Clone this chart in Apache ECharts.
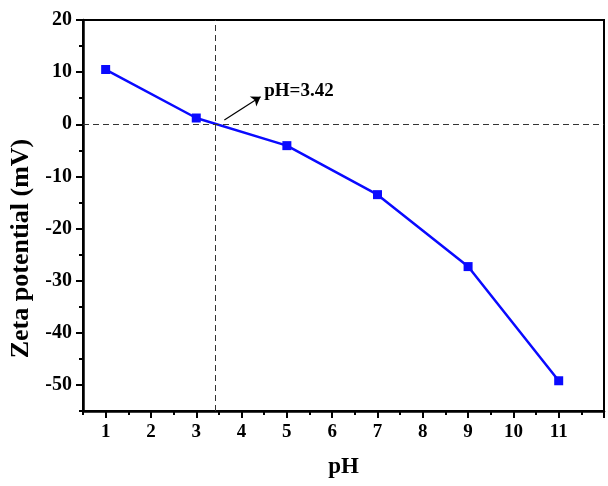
<!DOCTYPE html>
<html>
<head>
<meta charset="utf-8">
<script src="https://cdn.jsdelivr.net/npm/echarts@6/dist/echarts.min.js"></script>
<style>
html,body{margin:0;padding:0;background:#fff;}
#chart{width:608px;height:486px;}
</style>
</head>
<body>
<div id="chart"></div>
<script>
// 数据
var ph = [1, 3, 5, 7, 9, 11];
var zeta = [10.5, 1.2, -4.1, -13.5, -27.3, -49.2];
var xLabels = [1, 2, 3, 4, 5, 6, 7, 8, 9, 10, 11];
var xMinor = [0.5, 1.5, 2.5, 3.5, 4.5, 5.5, 6.5, 7.5, 8.5, 9.5, 10.5, 11.5];
var yLabels = [-50, -40, -30, -20, -10, 0, 10, 20];
var yMinor = [-55, -45, -35, -25, -15, -5, 5, 15];
var iep = 3.42;

var font = 'Liberation Serif';
var chart = echarts.init(document.getElementById('chart'));
chart.setOption({
    animation: false,
    grid: {left: 83, top: 20, right: 4, bottom: 75, show: true, borderColor: '#000', borderWidth: 2},
    xAxis: [{
        type: 'value', min: 0.5, max: 12,
        name: 'pH', nameLocation: 'middle', nameGap: 45,
        nameTextStyle: {fontFamily: font, fontWeight: 'bold', fontSize: 23, color: '#000'},
        axisLine: {onZero: false, lineStyle: {color: '#000', width: 2.5}},
        axisTick: {show: true, length: 7, lineStyle: {color: '#000', width: 2}, customValues: xLabels.concat([12])},
        axisLabel: {customValues: xLabels, margin: 12, fontFamily: font, fontWeight: 'bold', fontSize: 19, color: '#000'},
        splitLine: {show: false}
    }, {
        type: 'value', min: 0.5, max: 12, position: 'bottom',
        axisLine: {show: false, onZero: false},
        axisTick: {show: true, length: 4, lineStyle: {color: '#000', width: 2}, customValues: xMinor},
        axisLabel: {show: false},
        splitLine: {show: false}
    }],
    yAxis: [{
        type: 'value', min: -55, max: 20,
        name: 'Zeta potential (mV)', nameLocation: 'middle', nameGap: 49,
        nameTextStyle: {fontFamily: font, fontWeight: 'bold', fontSize: 26, color: '#000', padding: [0, 66, 0, 0]},
        axisLine: {onZero: false, lineStyle: {color: '#000', width: 2.5}},
        axisTick: {show: true, length: 7, lineStyle: {color: '#000', width: 2}, customValues: yLabels},
        axisLabel: {customValues: yLabels, margin: 11, fontFamily: font, fontWeight: 'bold', fontSize: 20, color: '#000'},
        splitLine: {show: false}
    }, {
        type: 'value', min: -55, max: 20, position: 'left',
        axisLine: {show: false, onZero: false},
        axisTick: {show: true, length: 4, lineStyle: {color: '#000', width: 2}, customValues: yMinor},
        axisLabel: {show: false},
        splitLine: {show: false}
    }],
    series: [{
        type: 'line',
        data: ph.map(function (v, i) { return [v, zeta[i]]; }),
        symbol: 'rect', symbolSize: 9,
        itemStyle: {color: '#0a0aff'},
        lineStyle: {color: '#0a0aff', width: 2.5},
        markLine: {
            silent: true, symbol: 'none',
            lineStyle: {type: [6, 4], color: '#333', width: 1},
            label: {show: false},
            data: [
                {xAxis: iep},
                {yAxis: 0},
                [{coord: [3.62, 0.8], symbol: 'none'},
                 {coord: [4.42, 5.3], symbol: 'arrow', symbolSize: 9,
                  lineStyle: {type: 'solid', color: '#000', width: 1.2}}]
            ]
        },
        markPoint: {
            silent: true, symbol: 'circle', symbolSize: 0,
            data: [{coord: [4.5, 6.3], label: {show: true, position: 'right', distance: 0,
                formatter: 'pH=' + iep, fontFamily: font, fontWeight: 'bold', fontSize: 19, color: '#000'}}]
        }
    }]
});
</script>
</body>
</html>
